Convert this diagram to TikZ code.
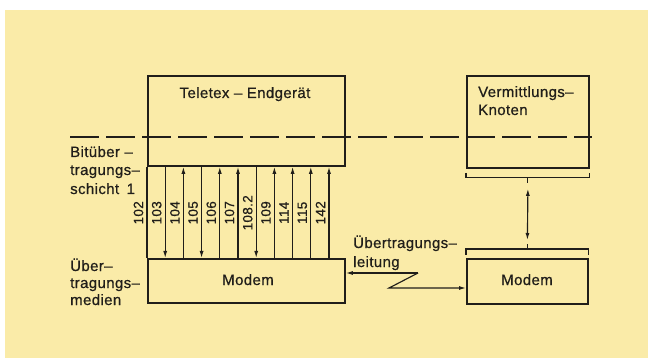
\documentclass[tikz,border=0pt]{standalone}
\usepackage{fontspec}
\setmainfont[LetterSpace=2.5,FakeBold=0.6]{Liberation Sans}
\usetikzlibrary{arrows.meta,calc}
\definecolor{paper}{RGB}{250,235,168}
\definecolor{ink}{RGB}{32,30,26}
\begin{document}
\begin{tikzpicture}[x=1pt,y=-1pt,
  box/.style={draw=ink, line width=1.8pt, inner sep=0pt, anchor=north west},
  wire/.style={draw=ink, line width=1.15pt},
  tipa/.style={-{Latex[length=7pt,width=4pt]}},
  dn/.style={wire,-{Latex[length=7pt,width=4pt]}},
  upa/.style={wire,{Latex[length=7pt,width=4pt]}-},
  plain/.style={draw=ink,line width=1.8pt},
  lbl/.style={text=ink, inner sep=0pt, font=\fontsize{15}{18}\selectfont},
  num/.style={text=ink, inner sep=0pt, rotate=90, font=\fontsize{13.5}{15}\selectfont},
  dashline/.style={draw=ink, line width=1.1pt, dash pattern=on 29pt off 7pt}
]
\useasboundingbox (0,0) rectangle (648,358);
\fill[paper] (5,10) rectangle (648,358);

% boxes
\node[box, minimum width=197pt, minimum height=90pt] (tt) at (147,75) {};
\node[box, minimum width=122pt, minimum height=92pt] (vk) at (466,75) {};
\node[box, minimum width=197pt, minimum height=44pt] (mL) at (147,258) {};
\node[box, minimum width=121pt, minimum height=45pt] (mR) at (466,258) {};

% dashed layer line
\coordinate (dA) at (70,137);
\coordinate (dB) at (592,137);
\draw[dashline] (dA) -- (dB);

% texts in boxes
\node[lbl, anchor=base] (ttl) at (245,98) {Teletex – Endgerät};
\node[lbl, anchor=base west] (vk1) at (478,97) {Vermittlungs–};
\node[lbl, anchor=base west] (vk2) at (478,115) {Knoten};
\node[lbl, anchor=base] (mLt) at (248,285) {Modem};
\node[lbl, anchor=base] (mRt) at (527,285) {Modem};

% left labels
\node[lbl, anchor=base west] (b1) at (70,157) {Bitüber –};
\node[lbl, anchor=base west] (b2) at (70,175) {tragungs–};
\node[lbl, anchor=base west] (b3) at (70,194) {schicht\enspace 1};
\node[lbl, anchor=base west] (u1) at (70,271) {Über–};
\node[lbl, anchor=base west] (u2) at (70,288) {tragungs–};
\node[lbl, anchor=base west] (u3) at (70,305) {medien};

% interface wires
\foreach \k/\lab/\st in {0/102/plain,1/103/dn,2/104/upa,3/105/dn,4/106/upa,5/107/upa,6/108.2/dn,7/109/upa,8/114/upa,9/115/upa,10/142/upa}{
  \draw[\st] ($(tt.south west)+(18.2*\k,0)$) -- ($(mL.north west)+(18.2*\k,0)$);
  \node[num] (n\k) at ($(tt.south west)+(18.2*\k-8.5,46)$) {\lab};
}

% brackets and vertical double arrow
\draw[wire] ($(vk.south west)+(0,4)$) -- ($(vk.south west)+(0,9)$) -- ($(vk.south east)+(0,9)$) -- ($(vk.south east)+(0,4)$);
\coordinate (bt) at ($(vk.south)+(0,9)$);
\draw[wire] (bt) -- ++(0,5);
\draw[wire] ($(mR.north west)+(0,-3)$) -- ($(mR.north west)+(0,-9)$) -- ($(mR.north east)+(0,-9)$) -- ($(mR.north east)+(0,-3)$);
\coordinate (bb) at ($(mR.north)+(0,-9)$);
\draw[wire] (bb) -- ++(0,-5);
\draw[wire,{Latex[length=7pt,width=4pt]}-{Latex[length=7pt,width=4pt]}] ($(bt)+(0,11)$) -- ($(bb)+(0,-9)$);

% transmission line
\node[lbl, anchor=base west] (l1) at (353,248) {Übertragungs–};
\node[lbl, anchor=base west] (l2) at (353,267) {leitung};
\coordinate (z1) at (418,273);
\coordinate (z2) at (389,288);
\draw[wire,tipa] (z1) -- (z1 -| mL.east);
\draw[wire,tipa] (z1) -- (z2) -- (z2 -| mR.west);
\end{tikzpicture}
\end{document}
